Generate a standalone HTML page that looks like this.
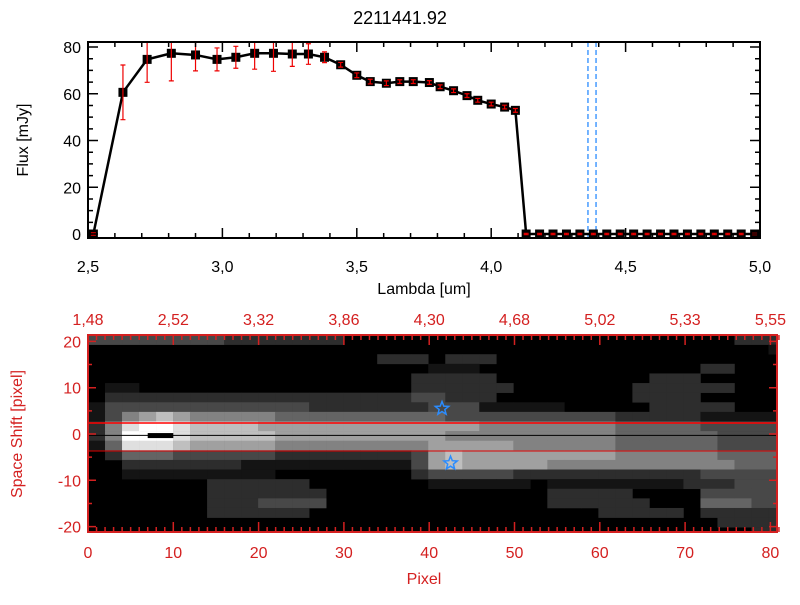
<!DOCTYPE html>
<html><head><meta charset="utf-8"><style>
body{margin:0;background:#fff;width:800px;height:600px;overflow:hidden}
svg text{font-family:"Liberation Sans",sans-serif}
</style></head><body>
<svg id="c" width="800" height="600" xmlns="http://www.w3.org/2000/svg">
<text x="400" y="24" text-anchor="middle" font-size="18">2211441.92</text>
<g id="top"></g>
<g id="bot"></g>
</svg>
<script>
const lambda=[2.52,2.63,2.72,2.81,2.90,2.98,3.05,3.12,3.19,3.26,3.32,3.38,3.44,3.50,3.55,3.61,3.66,3.71,3.77,3.81,3.86,3.91,3.95,4.00,4.05,4.09,4.13,4.18,4.23,4.28,4.33,4.38,4.43,4.48,4.53,4.58,4.63,4.68,4.73,4.78,4.83,4.88,4.93,4.98];
const flux=[0,60.6,74.7,77.3,76.6,74.7,75.6,77.3,77.3,77,77,75.6,72.4,67.9,65.2,64.5,65.2,65.2,64.8,63,61.3,59.2,57.2,55.6,54.3,52.9,0,0,0,0,0,0,0,0,0,0,0,0,0,0,0,0,0,0];
const fluxErr=[0.5,11.7,9.8,11.8,6.8,4.9,4.7,6.8,7.7,5.3,4.4,2.3,1,1,1,1,0.8,0.8,0.8,0.8,0.8,0.8,0.8,0.8,0.8,0.8,0.3,0.3,0.3,0.3,0.3,0.3,0.3,0.3,0.3,0.3,0.3,0.3,0.3,0.3,0.3,0.3,0.3,0.3];
const xTicks=["2.5","3.0","3.5","4.0","4.5","5.0"];
const yTicks=[0,20,40,60,80];
const cutLines=[4.36,4.39];
const topLabels=["1.48","2.52","3.32","3.86","4.30","4.68","5.02","5.33","5.55"];
const pixTicks=[0,10,20,30,40,50,60,70,80];
const shiftTicks=[20,10,0,-10,-20];
const img=[
"33333333222222200000000000000000000000222",
"00000000000000000000000000000000000000001",
"00000000000000000222022200000000000000000",
"00000000000000000000111000000000000022000",
"00000000000000000002222200000000022200000",
"01100000000000000002222220000000222222000",
"02222222222222222223322200000000222200000",
"13333333333332222222333111110000022222000",
"13567655555444444444433333333332222211111",
"25899877776666666666666555555554444433333",
"25999877777666666666655555555554444443333",
"14888766666555555555666665555554444443333",
"02444333333222222223676666666665555554444",
"00222222211111111113676666655555555555444",
"00111111111000000002333332222222222233333",
"00000002222220000000111111011111111222333",
"00000002222222000000000000022222000033333",
"00000002223333000000000000022222200044433",
"00000002222220000000000000000022222022222",
"00000000000000000000000000000000000002222",
"00000000000000000000000000000000000000022"];
const starsX=[41.5,42.5];
const starsY=[5.5,-6.3];

const NS="http://www.w3.org/2000/svg";
function mk(p,t,a,txt){const e=document.createElementNS(NS,t);for(const k in a)e.setAttribute(k,a[k]);if(txt!==undefined)e.textContent=txt;p.appendChild(e);return e;}
const T=document.getElementById('top');
const L=88,R=760,TT=42,B=238;
const sx=v=>L+(v-2.5)/2.5*(R-L);
const sy=v=>234-v/80*187;
const cp=mk(T,'clipPath',{id:'cp'});
mk(cp,'rect',{x:L,y:TT,width:R-L,height:B-TT});
cutLines.forEach(v=>{const l=mk(T,'line',{x1:sx(v),x2:sx(v),y1:TT,y2:B,stroke:'#2a8cff','stroke-width':1.3,'stroke-dasharray':'5,3'});

});
const g=mk(T,'g',{'clip-path':'url(#cp)'});
mk(g,'polyline',{points:lambda.map((v,i)=>sx(v)+','+sy(flux[i])).join(' '),fill:'none',stroke:'#000','stroke-width':2.5});
lambda.forEach((v,i)=>{const x=sx(v),y=sy(flux[i]);
const r=mk(g,'rect',{x:x-4.5,y:y-4.5,width:9,height:9,fill:'#000'});


const y1=sy(flux[i]+fluxErr[i]),y2=sy(flux[i]-fluxErr[i]);
const e=mk(g,'path',{d:`M${x},${y1}V${y2}M${x-2.5},${y1}h5M${x-2.5},${y2}h5`,stroke:'#e00',fill:'none','stroke-width':1.2});

});
mk(T,'rect',{x:L,y:TT,width:R-L,height:B-TT,fill:'none',stroke:'#000','stroke-width':2});
for(let v=2.5;v<=5.001;v+=0.1){const big=Math.abs(v*2-Math.round(v*2))<1e-6;const h=big?10:5;
mk(T,'path',{d:`M${sx(v)},${B}v-${h}M${sx(v)},${TT}v${h}`,stroke:'#000','stroke-width':1.5});}
for(let v=0;v<=80;v+=5){const h=v%20==0?10:5;mk(T,'path',{d:`M${L},${sy(v)}h${h}M${R},${sy(v)}h-${h}`,stroke:'#000','stroke-width':1.5});}
xTicks.forEach(t=>{const e=mk(T,'text',{x:sx(+t),y:272,'text-anchor':'middle','font-size':16},t.replace('.',','));

});
yTicks.forEach(t=>{const e=mk(T,'text',{x:81,y:sy(t)+6,'text-anchor':'end','font-size':16},t);

});
const xl=mk(T,'text',{x:424,y:294,'text-anchor':'middle','font-size':16},'Lambda [um]');


const yl=mk(T,'text',{x:28,y:140,'text-anchor':'middle','font-size':16,transform:'rotate(-90 28 140)'},'Flux [mJy]');


const Bt=document.getElementById('bot');
const BL=88,BR=777,BT=335,BB=532,RED='#d42020';
const cols=41,cw=(BR-BL)/81*2,rh=(BB-BT)/41*2;
mk(Bt,'rect',{x:BL,y:BT,width:BR-BL,height:BB-BT,fill:'#000'});
img.forEach((row,r)=>{row=row.padEnd(cols,'0').slice(0,cols);for(let c=0;c<cols;c++){const v=+row[c];if(!v)continue;
const gv=Math.round(Math.pow(v/9,1.15)*255);
const cell=mk(Bt,'rect',{x:BL+c*cw,y:BT+r*rh,width:Math.min(cw,BR-BL-c*cw)+0.3,height:Math.min(rh,BB-BT-r*rh)+0.3,fill:`rgb(${gv},${gv},${gv})`});

}});
const px=v=>BL+v*8.53;
const py=v=>434-v*4.63;
mk(Bt,'rect',{x:px(7),y:py(0.2),width:px(10)-px(7),height:5,fill:'#000'});
mk(Bt,'line',{x1:BL,x2:BR,y1:py(-0.3),y2:py(-0.3),stroke:'#000','stroke-width':1});
mk(Bt,'line',{x1:BL,x2:BR,y1:423,y2:423,stroke:'#f00','stroke-width':1.5});
mk(Bt,'line',{x1:BL,x2:BR,y1:451,y2:451,stroke:'#d00','stroke-width':1});
starsX.forEach((v,i)=>{const cx=px(v),cy=py(starsY[i]);let d='';for(let k=0;k<10;k++){const a=-Math.PI/2+k*Math.PI/5,rr=k%2?3:7;d+=(k?'L':'M')+(cx+rr*Math.cos(a)).toFixed(1)+','+(cy+rr*Math.sin(a)).toFixed(1);}
const s=mk(Bt,'path',{d:d+'Z',fill:'none',stroke:'#2a8cff','stroke-width':1.5});

});
mk(Bt,'rect',{x:BL,y:BT,width:BR-BL,height:BB-BT,fill:'none',stroke:RED,'stroke-width':2});
for(let v=0;v<=81;v++){const h=v%10==0?10:5;mk(Bt,'path',{d:`M${px(v)},${BB}v-${h}M${px(v)},${BT}v${h}`,stroke:RED,'stroke-width':1.5});}
for(let v=-20;v<=20;v+=5){const h=v%10==0?8:4;mk(Bt,'path',{d:`M${BL},${py(v)}h${h}M${BR},${py(v)}h-${h}`,stroke:RED,'stroke-width':1.5});}
topLabels.forEach((t,i)=>{const e=mk(Bt,'text',{x:px(i*10),y:325,'text-anchor':'middle','font-size':16,fill:RED},t.replace('.',','));

});
pixTicks.forEach(t=>{const e=mk(Bt,'text',{x:px(t),y:558,'text-anchor':'middle','font-size':16,fill:RED},t);

});
shiftTicks.forEach(t=>{const e=mk(Bt,'text',{x:81,y:py(t)+6,'text-anchor':'end','font-size':16,fill:RED},t);

});
const pl=mk(Bt,'text',{x:424,y:584,'text-anchor':'middle','font-size':16,fill:RED},'Pixel');


const sl=mk(Bt,'text',{x:22,y:434,'text-anchor':'middle','font-size':16,fill:RED,transform:'rotate(-90 22 434)'},'Space Shift [pixel]');


</script>
</body></html>
